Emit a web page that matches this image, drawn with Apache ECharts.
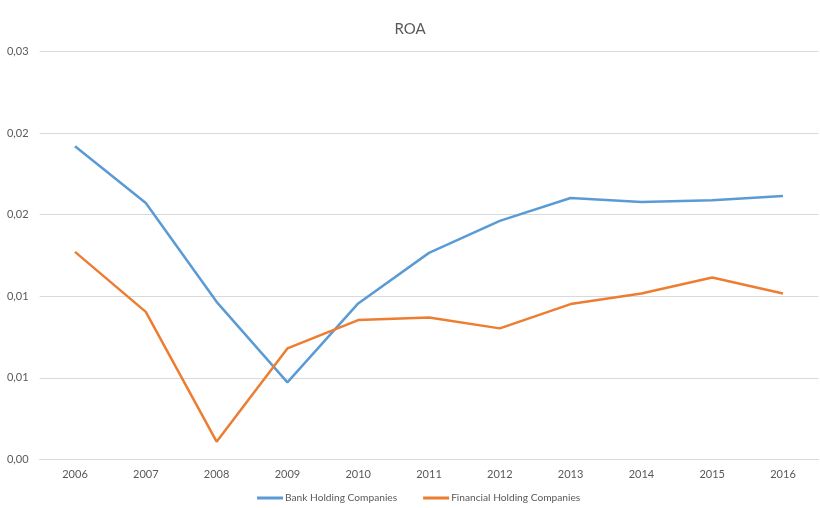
<!DOCTYPE html>
<html>
<head>
<meta charset="utf-8">
<script src="https://cdn.jsdelivr.net/npm/echarts@6/dist/echarts.min.js"></script>
<style>
  html, body { margin: 0; padding: 0; background: #fff; }
  #chart { width: 820px; height: 508px; }
</style>
</head>
<body>
<div id="chart"></div>
<script>
// Return on assets by year
const years = ['2006', '2007', '2008', '2009', '2010', '2011', '2012', '2013', '2014', '2015', '2016'];
const bankHolding = [0.01920, 0.01572, 0.00966, 0.00472, 0.00956, 0.01266, 0.01462, 0.01603, 0.01578, 0.01589, 0.01615];
const financialHolding = [0.01272, 0.00904, 0.00108, 0.00680, 0.00854, 0.00870, 0.00803, 0.00952, 0.01017, 0.01115, 0.01017];
// Value-axis labels, rounded to two decimals with a comma separator
const yTickLabels = ['0,00', '0,01', '0,01', '0,02', '0,02', '0,03'];
const yStep = 0.005;

const textColor = '#595959';
const fontFamily = 'Lato, "Open Sans", sans-serif';

const chart = echarts.init(document.getElementById('chart'), null, { renderer: 'canvas' });
chart.setOption({
  animation: false,
  backgroundColor: '#ffffff',
  textStyle: { fontFamily: fontFamily },
  title: {
    text: 'ROA',
    left: 'center',
    top: 17,
    textStyle: { color: textColor, fontSize: 15, fontWeight: 'normal', fontFamily: fontFamily }
  },
  legend: {
    top: 493,
    left: 257,
    padding: 0,
    itemWidth: 26,
    itemHeight: 3,
    itemGap: 26,
    icon: 'rect',
    textStyle: { color: textColor, fontSize: 10.2, fontFamily: fontFamily, padding: [0, 0, 0, -3] },
    data: ['Bank Holding Companies', 'Financial Holding Companies']
  },
  grid: { left: 39.6, right: 1.6, top: 51.7, bottom: 48.7, containLabel: false },
  xAxis: {
    type: 'category',
    data: years,
    boundaryGap: true,
    axisLine: { show: true, lineStyle: { color: '#d9d9d9', width: 1 } },
    axisTick: { show: false },
    axisLabel: { color: textColor, fontSize: 11, margin: 10, fontFamily: fontFamily },
    splitLine: { show: false }
  },
  yAxis: {
    type: 'value',
    min: 0,
    max: 0.025,
    interval: yStep,
    axisLine: { show: false },
    axisTick: { show: false },
    axisLabel: {
      color: textColor,
      fontSize: 11,
      margin: 11,
      fontFamily: fontFamily,
      formatter: v => yTickLabels[Math.round(v / yStep)]
    },
    splitLine: { lineStyle: { color: '#d9d9d9', width: 1 } }
  },
  series: [
    {
      name: 'Bank Holding Companies',
      type: 'line',
      data: bankHolding,
      symbol: 'none',
      color: '#5B9BD5',
      lineStyle: { width: 2.5, color: '#5B9BD5' }
    },
    {
      name: 'Financial Holding Companies',
      type: 'line',
      data: financialHolding,
      symbol: 'none',
      color: '#ED7D31',
      lineStyle: { width: 2.5, color: '#ED7D31' }
    }
  ]
});
</script>
</body>
</html>
